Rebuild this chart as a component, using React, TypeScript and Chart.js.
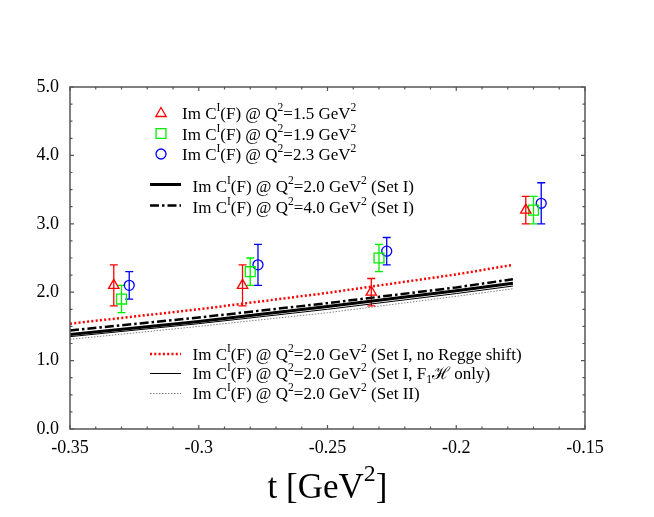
import React, { useEffect, useRef } from "react";
import { Chart, registerables } from "chart.js";

Chart.register(...registerables);

// ---------- axis definitions ----------
const xMin = -0.35;
const xMax = -0.15;
const xStep = 0.05;
const xMinorStep = 0.01;
const yMin = 0;
const yMax = 5;
const yStep = 1;
const yMinorStep = 0.25;
const xTickLabels = ["-0.35", "-0.3", "-0.25", "-0.2", "-0.15"];
const yTickLabels = ["0.0", "1.0", "2.0", "3.0", "4.0", "5.0"];
const xAxisTitle = "t [GeV^{2}]";

// ---------- data points (with error bars) ----------
const tQ15 = [-0.333, -0.283, -0.233, -0.173];
const imQ15 = [2.1, 2.1, 2.0, 3.2];
const errQ15 = [0.3, 0.3, 0.2, 0.2];

const tQ19 = [-0.33, -0.28, -0.23, -0.17];
const imQ19 = [1.9, 2.3, 2.5, 3.2];
const errQ19 = [0.2, 0.2, 0.2, 0.2];

const tQ23 = [-0.327, -0.277, -0.227, -0.167];
const imQ23 = [2.1, 2.4, 2.6, 3.3];
const errQ23 = [0.2, 0.3, 0.2, 0.3];

// ---------- model curves ----------
const tCurve = [-0.35, -0.3, -0.25, -0.2, -0.178];
const curveSetI_Q20 = [1.38, 1.57, 1.79, 2.02, 2.13];
const curveSetI_Q40 = [1.44, 1.63, 1.84, 2.07, 2.19];
const curveNoRegge = [1.54, 1.75, 1.99, 2.26, 2.4];
const curveF1Honly = [1.35, 1.54, 1.75, 1.98, 2.09];
const curveSetII = [1.31, 1.5, 1.7, 1.94, 2.05];

// ---------- legend labels ----------
const labelQ15 = "Im C^{I}(F) @ Q^{2}=1.5 GeV^{2}";
const labelQ19 = "Im C^{I}(F) @ Q^{2}=1.9 GeV^{2}";
const labelQ23 = "Im C^{I}(F) @ Q^{2}=2.3 GeV^{2}";
const labelSetI20 = "Im C^{I}(F) @ Q^{2}=2.0 GeV^{2} (Set I)";
const labelSetI40 = "Im C^{I}(F) @ Q^{2}=4.0 GeV^{2} (Set I)";
const labelNoRegge = "Im C^{I}(F) @ Q^{2}=2.0 GeV^{2} (Set I, no Regge shift)";
const labelF1H = "Im C^{I}(F) @ Q^{2}=2.0 GeV^{2} (Set I, F_{1}ℋ only)";
const labelSetII = "Im C^{I}(F) @ Q^{2}=2.0 GeV^{2} (Set II)";

const FAMILY = '"Liberation Serif", "Times New Roman", serif';

const toXY = (xs: number[], ys: number[]) => xs.map((x, i) => ({ x, y: ys[i] }));

type Part = { t: string; k: number };
function parseRich(s: string): Part[] {
  const parts: Part[] = [];
  let i = 0;
  let buf = "";
  while (i < s.length) {
    const c = s[i];
    if ((c === "^" || c === "_") && s[i + 1] === "{") {
      if (buf) {
        parts.push({ t: buf, k: 0 });
        buf = "";
      }
      const end = s.indexOf("}", i);
      parts.push({ t: s.slice(i + 2, end), k: c === "^" ? 1 : -1 });
      i = end + 1;
    } else {
      buf += c;
      i++;
    }
  }
  if (buf) parts.push({ t: buf, k: 0 });
  return parts;
}

function richWidth(ctx: CanvasRenderingContext2D, s: string, size: number, supScale = 0.68) {
  let w = 0;
  for (const p of parseRich(s)) {
    ctx.font = `${p.k === 0 ? size : size * supScale}px ${FAMILY}`;
    w += ctx.measureText(p.t).width;
  }
  return w;
}

function drawRich(
  ctx: CanvasRenderingContext2D,
  s: string,
  x: number,
  y: number,
  size: number,
  supScale = 0.68,
  supRise = 0.45,
  subDrop = 0.25
) {
  let cx = x;
  ctx.textBaseline = "alphabetic";
  ctx.textAlign = "left";
  for (const p of parseRich(s)) {
    const fs = p.k === 0 ? size : size * supScale;
    ctx.font = `${fs}px ${FAMILY}`;
    const dy = p.k === 1 ? -size * supRise : p.k === -1 ? size * subDrop : 0;
    ctx.fillText(p.t, cx, y + dy);
    cx += ctx.measureText(p.t).width;
  }
}

function drawMarker(ctx: CanvasRenderingContext2D, style: string, r: number, x: number, y: number) {
  ctx.beginPath();
  if (style === "triangle") {
    let a = 0;
    ctx.moveTo(x + Math.sin(a) * r, y - Math.cos(a) * r);
    a += (2 * Math.PI) / 3;
    ctx.lineTo(x + Math.sin(a) * r, y - Math.cos(a) * r);
    a += (2 * Math.PI) / 3;
    ctx.lineTo(x + Math.sin(a) * r, y - Math.cos(a) * r);
    ctx.closePath();
  } else if (style === "rect") {
    const s = r * Math.SQRT1_2;
    ctx.rect(x - s, y - s, 2 * s, 2 * s);
  } else {
    ctx.arc(x, y, r, 0, Math.PI * 2);
  }
  ctx.stroke();
}

const decorPlugin = {
  id: "decor",
  beforeDatasetsDraw(chart: any) {
    const ctx: CanvasRenderingContext2D = chart.ctx;
    const xs = chart.scales.x;
    const ys = chart.scales.y;
    ctx.save();
    chart.data.datasets.forEach((ds: any) => {
      if (!ds.errors) return;
      ctx.strokeStyle = ds.borderColor;
      ctx.lineWidth = 1.3;
      ds.data.forEach((pt: any, i: number) => {
        const px = xs.getPixelForValue(pt.x);
        const yTop = ys.getPixelForValue(pt.y + ds.errors[i]);
        const yBot = ys.getPixelForValue(pt.y - ds.errors[i]);
        ctx.beginPath();
        ctx.moveTo(px, yTop);
        ctx.lineTo(px, yBot);
        ctx.moveTo(px - 4, yTop);
        ctx.lineTo(px + 4, yTop);
        ctx.moveTo(px - 4, yBot);
        ctx.lineTo(px + 4, yBot);
        ctx.stroke();
      });
    });
    ctx.restore();
  },
  afterDraw(chart: any) {
    const ctx: CanvasRenderingContext2D = chart.ctx;
    const { left, right, top, bottom } = chart.chartArea;
    const xs = chart.scales.x;
    const ys = chart.scales.y;
    ctx.save();

    // frame
    ctx.strokeStyle = "#555555";
    ctx.lineWidth = 1.5;
    ctx.strokeRect(left, top, right - left, bottom - top);

    // tick marks (inward, mirrored)
    ctx.lineWidth = 1.2;
    const nx = Math.round((xMax - xMin) / xMinorStep);
    for (let i = 0; i <= nx; i++) {
      const px = xs.getPixelForValue(xMin + i * xMinorStep);
      const len = i % Math.round(xStep / xMinorStep) === 0 ? 4 : 2.5;
      ctx.beginPath();
      ctx.moveTo(px, bottom);
      ctx.lineTo(px, bottom - len);
      ctx.moveTo(px, top);
      ctx.lineTo(px, top + len);
      ctx.stroke();
    }
    const ny = Math.round((yMax - yMin) / yMinorStep);
    for (let i = 0; i <= ny; i++) {
      const py = ys.getPixelForValue(yMin + i * yMinorStep);
      const len = i % Math.round(yStep / yMinorStep) === 0 ? 4 : 2.5;
      ctx.beginPath();
      ctx.moveTo(left, py);
      ctx.lineTo(left + len, py);
      ctx.moveTo(right, py);
      ctx.lineTo(right - len, py);
      ctx.stroke();
    }

    // axis title
    ctx.fillStyle = "#000";
    const tSize = 35;
    const tw = richWidth(ctx, xAxisTitle, tSize, 0.68);
    drawRich(ctx, xAxisTitle, (left + right) / 2 - tw / 2, 498, tSize, 0.68, 0.48);

    // legend
    const ds = chart.data.datasets;
    const lSize = 17;
    const markerRows = [
      { d: ds[0], y: 113.5, base: 119, label: labelQ15 },
      { d: ds[1], y: 133.5, base: 139.5, label: labelQ19 },
      { d: ds[2], y: 154, base: 160, label: labelQ23 },
    ];
    markerRows.forEach((r) => {
      ctx.strokeStyle = r.d.borderColor;
      ctx.lineWidth = 1.3;
      drawMarker(ctx, r.d.pointStyle, r.d.pointRadius, 161, r.y);
      ctx.fillStyle = "#000";
      drawRich(ctx, r.label, 182, r.base, lSize);
    });

    const lineRows = [
      { d: ds[3], y: 184.5, base: 191.5, label: labelSetI20 },
      { d: ds[4], y: 205.5, base: 212.5, label: labelSetI40 },
      { d: ds[5], y: 354, base: 359.5, label: labelNoRegge },
      { d: ds[6], y: 373.5, base: 379, label: labelF1H },
      { d: ds[7], y: 393.5, base: 399, label: labelSetII },
    ];
    lineRows.forEach((r) => {
      ctx.save();
      ctx.strokeStyle = r.d.borderColor;
      ctx.lineWidth = r.d.borderWidth;
      ctx.setLineDash(r.d.borderDash || []);
      ctx.beginPath();
      ctx.moveTo(150, r.y);
      ctx.lineTo(181, r.y);
      ctx.stroke();
      ctx.restore();
      ctx.fillStyle = "#000";
      drawRich(ctx, r.label, 192.5, r.base, lSize);
    });

    ctx.restore();
  },
};

export default function App() {
  const ref = useRef<HTMLCanvasElement>(null);

  useEffect(() => {
    const pointCommon = {
      showLine: false,
      backgroundColor: "rgba(0,0,0,0)",
      borderWidth: 1.3,
      pointBorderWidth: 1.3,
    };
    const lineCommon = {
      showLine: true,
      pointRadius: 0,
      pointHoverRadius: 0,
      tension: 0,
      fill: false,
    };
    const chart = new Chart(ref.current as HTMLCanvasElement, {
      type: "scatter",
      data: {
        datasets: [
          {
            ...pointCommon,
            label: "Q2=1.5",
            data: toXY(tQ15, imQ15),
            errors: errQ15,
            borderColor: "#ff0000",
            pointStyle: "triangle",
            pointRadius: 6,
            order: 0,
          } as any,
          {
            ...pointCommon,
            label: "Q2=1.9",
            data: toXY(tQ19, imQ19),
            errors: errQ19,
            borderColor: "#00ee00",
            pointStyle: "rect",
            pointRadius: 7,
            order: 0,
          } as any,
          {
            ...pointCommon,
            label: "Q2=2.3",
            data: toXY(tQ23, imQ23),
            errors: errQ23,
            borderColor: "#0000ff",
            pointStyle: "circle",
            pointRadius: 5,
            order: 0,
          } as any,
          {
            ...lineCommon,
            label: "Set I Q2=2.0",
            data: toXY(tCurve, curveSetI_Q20),
            borderColor: "#000000",
            borderWidth: 3,
            borderDash: [],
            order: 1,
          } as any,
          {
            ...lineCommon,
            label: "Set I Q2=4.0",
            data: toXY(tCurve, curveSetI_Q40),
            borderColor: "#000000",
            borderWidth: 2.5,
            borderDash: [9, 3, 2.5, 3],
            order: 1,
          } as any,
          {
            ...lineCommon,
            label: "no Regge shift",
            data: toXY(tCurve, curveNoRegge),
            borderColor: "#ff0000",
            borderWidth: 2.5,
            borderDash: [2, 2.3],
            order: 1,
          } as any,
          {
            ...lineCommon,
            label: "F1H only",
            data: toXY(tCurve, curveF1Honly),
            borderColor: "#000000",
            borderWidth: 1,
            borderDash: [],
            order: 1,
          } as any,
          {
            ...lineCommon,
            label: "Set II",
            data: toXY(tCurve, curveSetII),
            borderColor: "#808080",
            borderWidth: 1,
            borderDash: [1.5, 1.5],
            order: 1,
          } as any,
        ],
      },
      options: {
        animation: false,
        responsive: false,
        devicePixelRatio: 1,
        events: [],
        layout: { padding: { top: 87, right: 69, left: 0, bottom: 0 } },
        plugins: {
          legend: { display: false },
          tooltip: { enabled: false },
        },
        scales: {
          x: {
            type: "linear",
            min: xMin,
            max: xMax,
            grid: { display: false, drawTicks: false },
            border: { display: false },
            ticks: {
              stepSize: xStep,
              autoSkip: false,
              maxRotation: 0,
              padding: 8,
              color: "#000",
              font: { family: FAMILY, size: 18 },
              callback: (v: any) => {
                const i = Math.round((Number(v) - xMin) / xStep);
                return xTickLabels[i] ?? "";
              },
            },
            afterFit: (s: any) => {
              s.height = 88;
            },
          },
          y: {
            type: "linear",
            min: yMin,
            max: yMax,
            grid: { display: false, drawTicks: false },
            border: { display: false },
            ticks: {
              stepSize: yStep,
              autoSkip: false,
              padding: 11,
              color: "#000",
              font: { family: FAMILY, size: 18 },
              callback: (v: any) => {
                const i = Math.round((Number(v) - yMin) / yStep);
                return yTickLabels[i] ?? "";
              },
            },
            afterFit: (s: any) => {
              s.width = 70;
            },
          },
        },
      } as any,
      plugins: [decorPlugin],
    });
    return () => chart.destroy();
  }, []);

  return (
    <div style={{ position: "absolute", left: 0, top: 0, width: 654, height: 517, background: "#fff" }}>
      <canvas ref={ref} width={654} height={517} style={{ display: "block", width: 654, height: 517 }} />
    </div>
  );
}
